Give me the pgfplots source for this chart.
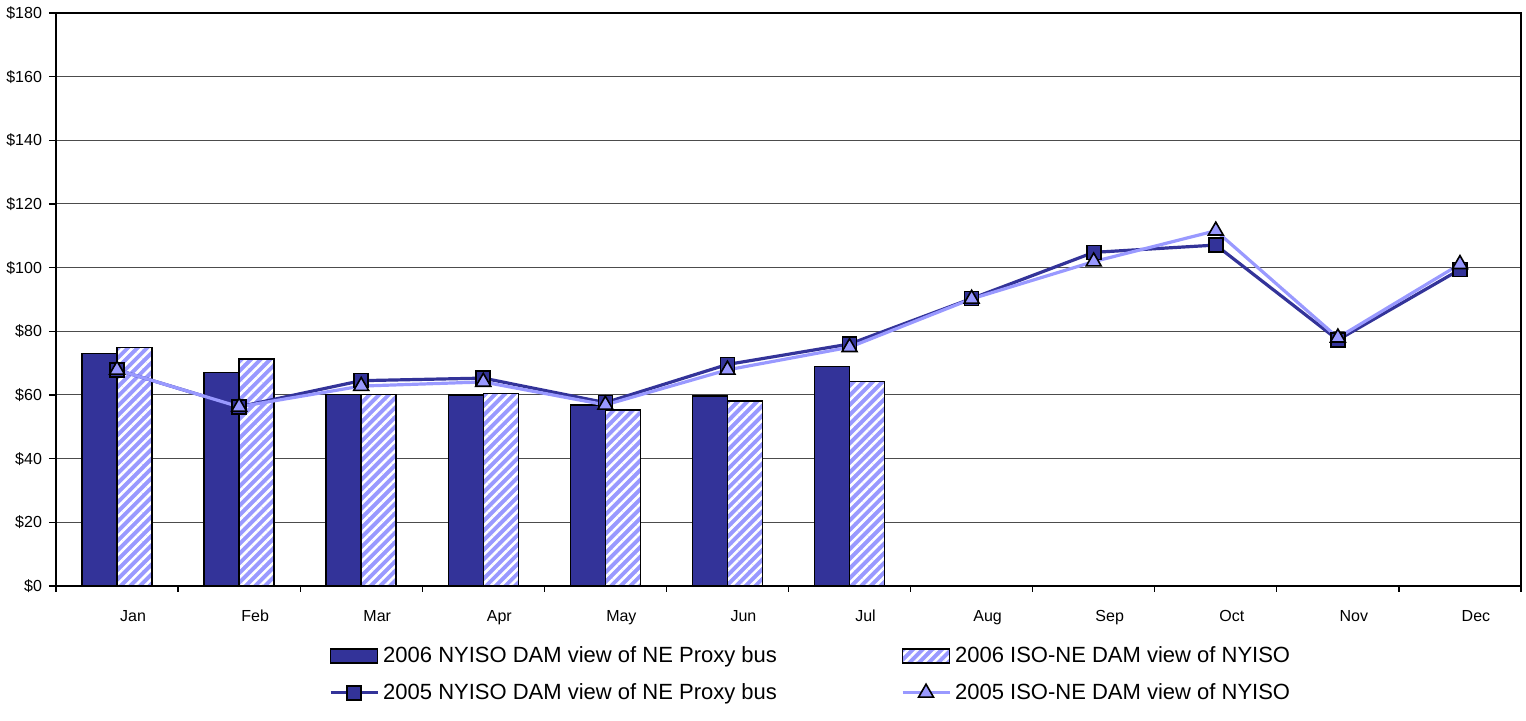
\documentclass[border=0pt]{standalone}
\usepackage{fontspec}
\setmainfont{Liberation Sans}
\usepackage{pgfplots}
\pgfplotsset{compat=1.18}
\usetikzlibrary{patterns.meta}
\definecolor{navy}{HTML}{333399}
\definecolor{lav}{HTML}{9999FF}
\pgfplotsset{
  barleg/.style={legend image code/.code={\draw[##1] (0pt,-3.5pt) rectangle (23.5pt,3.5pt);}},
  lineleg/.style={legend image code/.code={\draw[mark repeat=2,mark phase=2,##1] plot coordinates {(0pt,0pt) (11.75pt,0pt) (23.5pt,0pt)};}},
}
\begin{document}
\begin{tikzpicture}
\useasboundingbox (-28pt,-67.5pt) rectangle (735pt,293pt);
\begin{axis}[
  scale only axis, width=732.5pt, height=286.5pt,
  at={(0,0)}, anchor=south west,
  xmin=-0.5, xmax=11.5, ymin=0, ymax=180,
  xtick={0,...,11},
  xticklabels={Jan,Feb,Mar,Apr,May,Jun,Jul,Aug,Sep,Oct,Nov,Dec},
  major x tick style={draw=none},
  minor xtick={-0.5,0.5,...,11.5},
  ytick={0,20,...,180},
  yticklabels={\$0,\$20,\$40,\$60,\$80,\$100,\$120,\$140,\$160,\$180},
  tick align=outside,
  major tick length=3.5pt, minor tick length=3pt,
  tick style={black, line width=0.6pt},
  xtick pos=bottom, ytick pos=left,
  ymajorgrids, grid style={black!70, line width=0.5pt},
  axis line style={black, line width=0.8pt},
  xticklabel style={font=\fontsize{8}{9}\selectfont, xshift=8pt, yshift=-5pt},
  yticklabel style={font=\fontsize{8}{9}\selectfont},
  legend columns=2,
  legend cell align=left,
  legend style={at={(0.182,0)}, anchor=north west, yshift=-26pt, draw=none, fill=none,
    font=\fontsize{11}{12.5}\selectfont,
    /tikz/every even column/.append style={column sep=60pt},
    row sep=5pt},
]
\addplot[ybar, bar width=17.5pt, bar shift=-8.75pt, fill=navy, draw=black, line width=0.75pt, barleg]
  coordinates {(0,73.1) (1,67.1) (2,60.1) (3,60.0) (4,56.9) (5,59.7) (6,68.9)};
\addlegendentry{2006 NYISO DAM view of NE Proxy bus}
\addplot[ybar, bar width=17.5pt, bar shift=8.75pt, fill=lav, draw=black, line width=0.75pt,
  postaction={pattern={Lines[angle=45,distance=3.4pt,line width=1.3pt]}, pattern color=white}, barleg]
  coordinates {(0,74.9) (1,71.3) (2,60.2) (3,60.4) (4,55.3) (5,58.1) (6,64.2)};
\addlegendentry{2006 ISO-NE DAM view of NYISO}
\addplot[navy, line width=1.6pt, mark=square*, mark size=3.5pt,
  mark options={fill=navy, draw=black, line width=0.8pt}, lineleg]
  coordinates {(0,67.9) (1,56.3) (2,64.5) (3,65.3) (4,57.6) (5,69.6) (6,76.0) (7,90.3) (8,104.8) (9,107.1) (10,77.3) (11,99.4)};
\addlegendentry{2005 NYISO DAM view of NE Proxy bus}
\addplot[lav, line width=1.6pt, mark=triangle*, mark size=4.3pt,
  mark options={fill=lav, draw=black, line width=0.8pt}, lineleg]
  coordinates {(0,67.9) (1,56.3) (2,62.8) (3,64.1) (4,56.9) (5,67.9) (6,75.0) (7,90.2) (8,101.9) (9,111.6) (10,78.0) (11,101.1)};
\addlegendentry{2005 ISO-NE DAM view of NYISO}
\end{axis}
\end{tikzpicture}
\end{document}
